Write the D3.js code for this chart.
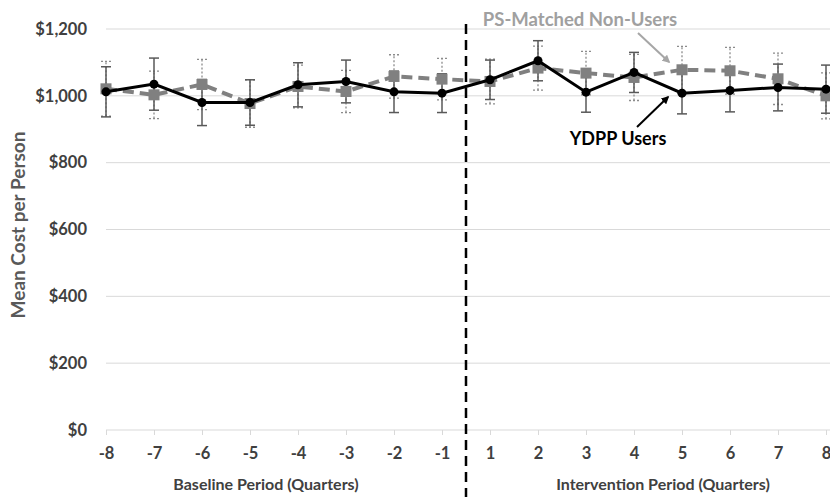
<!DOCTYPE html>
<html>
<head>
<meta charset="utf-8">
<script src="https://d3js.org/d3.v7.min.js"></script>
<style>
  body { margin: 0; background: #ffffff; }
  text { font-family: Lato, "Open Sans", sans-serif; }
</style>
</head>
<body>
<script>

// Quarters around the start of the intervention
var quarters = [-8, -7, -6, -5, -4, -3, -2, -1, 1, 2, 3, 4, 5, 6, 7, 8];

// YDPP users (black line)
var usersMean = [1012, 1035, 980, 980, 1033, 1043, 1012, 1008, 1048, 1105, 1011, 1070, 1008, 1016, 1025, 1020];
var usersErr  = [75, 78, 69, 68, 66, 64, 62, 58, 59, 60, 60, 60, 62, 64, 70, 72];

// PS-matched non-users (grey dashed line)
var nonUsersMean = [1021, 1003, 1034, 977, 1028, 1013, 1058, 1050, 1043, 1083, 1068, 1055, 1078, 1075, 1051, 1000];
var nonUsersErr  = [82, 71, 75, 71, 64, 63, 65, 62, 67, 66, 65, 69, 70, 70, 77, 69];

var yTicks = [0, 200, 400, 600, 800, 1000, 1200];

window.onload = function() {
    draw_chart();
};

function draw_chart(){

    var width_svg = 830;
    var height_svg = 497;

    var svg = d3.select("body")
                .append("svg")
                .attr("width", width_svg)
                .attr("height", height_svg);

    // arrow heads for the two labels
    var defs = svg.append("defs");
    [["arrowBlack", "#000000"], ["arrowGrey", "#a6a6a6"]].forEach(function(a){
        defs.append("marker")
            .attr("id", a[0])
            .attr("viewBox", "0 0 10 10")
            .attr("refX", 8)
            .attr("refY", 5)
            .attr("markerWidth", 4)
            .attr("markerHeight", 4)
            .attr("orient", "auto")
            .append("path")
            .attr("d", "M0,0 L10,5 L0,10 z")
            .attr("fill", a[1]);
    });

    // Scales
    var xScale = d3.scalePoint()
                    .domain(quarters)
                    .range([106, 826]);

    var yScale = d3.scaleLinear()
                    .domain([0, 1200])
                    .range([430, 29]);

    // Gridlines
    svg.append("g")
        .selectAll("line")
        .data(yTicks.slice(1))
        .enter()
        .append("line")
        .attr("x1", 106)
        .attr("x2", 830)
        .attr("y1", function(d) { return yScale(d); })
        .attr("y2", function(d) { return yScale(d); })
        .attr("stroke", "#d9d9d9")
        .attr("stroke-width", 1);

    // y axis labels
    var yAxis = d3.axisLeft(yScale)
                  .tickValues(yTicks)
                  .tickSize(0)
                  .tickPadding(19)
                  .tickFormat(function(d) { return "$" + d3.format(",")(d); });

    var gy = svg.append("g")
        .attr("transform", "translate(106, 0)")
        .call(yAxis);
    gy.select(".domain").remove();
    gy.selectAll("text")
        .attr("font-size", "16.5px")
        .attr("font-weight", "bold")
        .attr("fill", "#404040");

    // x axis
    var xAxis = d3.axisBottom(xScale)
                  .tickSize(5)
                  .tickPadding(12);

    var gx = svg.append("g")
        .attr("transform", "translate(0, 430)")
        .call(xAxis);
    gx.select(".domain")
        .attr("d", "M106,0H830")
        .attr("stroke", "#d9d9d9");
    gx.selectAll("line").attr("stroke", "#d9d9d9");
    gx.selectAll("text")
        .attr("font-size", "16.5px")
        .attr("font-weight", "bold")
        .attr("fill", "#404040");

    // Axis titles
    svg.append("text")
        .attr("transform", "translate(25, 225) rotate(-90)")
        .attr("text-anchor", "middle")
        .attr("font-size", "19px")
        .attr("font-weight", "bold")
        .attr("fill", "#595959")
        .text("Mean Cost per Person");

    svg.append("text")
        .attr("x", 266)
        .attr("y", 490)
        .attr("text-anchor", "middle")
        .attr("font-size", "16px")
        .attr("font-weight", "bold")
        .attr("fill", "#404040")
        .text("Baseline Period (Quarters)");

    svg.append("text")
        .attr("x", 663)
        .attr("y", 490)
        .attr("text-anchor", "middle")
        .attr("font-size", "16px")
        .attr("font-weight", "bold")
        .attr("fill", "#404040")
        .text("Intervention Period (Quarters)");

    // Dashed line for start of intervention
    var midX = (xScale(-1) + xScale(1)) / 2;
    svg.append("line")
        .attr("x1", midX)
        .attr("x2", midX)
        .attr("y1", 24)
        .attr("y2", 497)
        .attr("stroke", "#000000")
        .attr("stroke-width", 2.5)
        .attr("stroke-dasharray", "10,6");

    // Build tables for the two series
    var users = quarters.map(function(q, i) {
        return {q: q, v: usersMean[i], e: usersErr[i]};
    });
    var nonUsers = quarters.map(function(q, i) {
        return {q: q, v: nonUsersMean[i], e: nonUsersErr[i]};
    });

    var line = d3.line()
                 .x(function(d) { return xScale(d.q); })
                 .y(function(d) { return yScale(d.v); });

    // error bars helper
    function errorBars(data, color, dash, width){
        var g = svg.append("g")
                   .attr("stroke", color)
                   .attr("stroke-width", width)
                   .attr("stroke-dasharray", dash);
        g.selectAll(".bar")
            .data(data)
            .enter()
            .append("line")
            .attr("x1", function(d) { return xScale(d.q); })
            .attr("x2", function(d) { return xScale(d.q); })
            .attr("y1", function(d) { return yScale(d.v - d.e); })
            .attr("y2", function(d) { return yScale(d.v + d.e); });
        g.selectAll(".capTop")
            .data(data)
            .enter()
            .append("line")
            .attr("stroke-dasharray", null)
            .attr("x1", function(d) { return xScale(d.q) - 5; })
            .attr("x2", function(d) { return xScale(d.q) + 5; })
            .attr("y1", function(d) { return yScale(d.v + d.e); })
            .attr("y2", function(d) { return yScale(d.v + d.e); });
        g.selectAll(".capBottom")
            .data(data)
            .enter()
            .append("line")
            .attr("stroke-dasharray", null)
            .attr("x1", function(d) { return xScale(d.q) - 5; })
            .attr("x2", function(d) { return xScale(d.q) + 5; })
            .attr("y1", function(d) { return yScale(d.v - d.e); })
            .attr("y2", function(d) { return yScale(d.v - d.e); });
    }

    errorBars(nonUsers, "#8c8c8c", "2,2", 1.3);
    errorBars(users, "#595959", null, 1.5);

    // Non-users line and squares
    svg.append("path")
        .datum(nonUsers)
        .attr("d", line)
        .attr("fill", "none")
        .attr("stroke", "#808080")
        .attr("stroke-width", 4)
        .attr("stroke-dasharray", "11,6");

    svg.selectAll(".square")
        .data(nonUsers)
        .enter()
        .append("rect")
        .attr("x", function(d) { return xScale(d.q) - 5.5; })
        .attr("y", function(d) { return yScale(d.v) - 5.5; })
        .attr("width", 11)
        .attr("height", 11)
        .attr("fill", "#808080");

    // Users line and circles
    svg.append("path")
        .datum(users)
        .attr("d", line)
        .attr("fill", "none")
        .attr("stroke", "#000000")
        .attr("stroke-width", 3);

    svg.selectAll(".dot")
        .data(users)
        .enter()
        .append("circle")
        .attr("cx", function(d) { return xScale(d.q); })
        .attr("cy", function(d) { return yScale(d.v); })
        .attr("r", 4.5)
        .attr("fill", "#000000");

    // Labels with arrows
    svg.append("text")
        .attr("x", 580)
        .attr("y", 26)
        .attr("text-anchor", "middle")
        .attr("font-size", "18.5px")
        .attr("font-weight", "bold")
        .attr("fill", "#a0a0a0")
        .text("PS-Matched Non-Users");

    svg.append("line")
        .attr("x1", 638)
        .attr("y1", 33)
        .attr("x2", 669)
        .attr("y2", 62)
        .attr("stroke", "#a6a6a6")
        .attr("stroke-width", 2)
        .attr("marker-end", "url(#arrowGrey)");

    svg.append("text")
        .attr("x", 618)
        .attr("y", 145)
        .attr("text-anchor", "middle")
        .attr("font-size", "18px")
        .attr("font-weight", "bold")
        .attr("fill", "#000000")
        .text("YDPP Users");

    svg.append("line")
        .attr("x1", 637)
        .attr("y1", 127)
        .attr("x2", 668)
        .attr("y2", 97)
        .attr("stroke", "#000000")
        .attr("stroke-width", 2)
        .attr("marker-end", "url(#arrowBlack)");
}
</script>
</body>
</html>
